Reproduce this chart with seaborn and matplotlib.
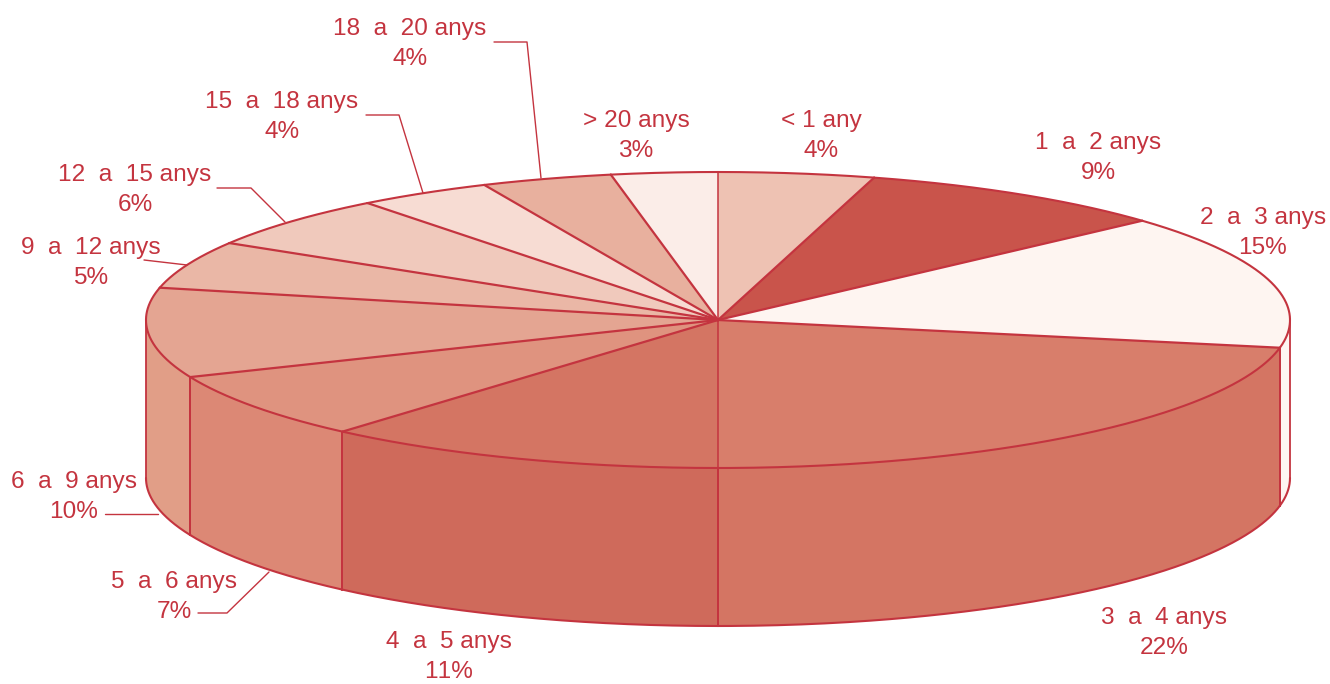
import numpy as np
import pandas as pd
import matplotlib.pyplot as plt
import seaborn as sns

# Data, clockwise from 12 o'clock
categories = ['< 1 any', '1 a 2 anys', '2 a 3 anys', '3 a 4 anys', '4 a 5 anys', '5 a 6 anys',
              '6 a 9 anys', '9 a 12 anys', '12 a 15 anys', '15 a 18 anys', '18 a 20 anys', '> 20 anys']
printed_pct = [4, 9, 15, 22, 11, 7, 10, 5, 6, 4, 4, 3]
# slice sizes as actually drawn (a bit more precise than the printed labels)
shares = [4.4, 8.9, 14.7, 22.0, 11.4, 7.3, 9.8, 5.2, 5.8, 3.8, 3.7, 3.0]

top_colors = ['#EEC2B3', '#C9544B', '#FEF5F1', '#D87E6B', '#D47563', '#DF937F',
              '#E4A592', '#EAB7A6', '#F0C9BC', '#F7DCD3', '#E8B09E', '#FBEDE8']
side_colors = ['#EEC2B3', '#C9544B', '#FEF5F1', '#D47563', '#CF6A5B', '#DC8875',
               '#E19E87', '#EAB7A6', '#F0C9BC', '#F7DCD3', '#E8B09E', '#FBEDE8']
RED = '#C4343F'

# Pie geometry in pixels
CX, CY, RX, RY, DEPTH = 718, 320, 572, 148, 158

# Label centres and leader lines (pixels)
label_pos = [(821, 121), (1098, 143), (1263, 218), (1164, 618), (449, 642), (174, 582),
             (74, 482), (91, 248), (135, 175), (282, 102), (410, 29), (636, 121)]
leaders = [
    [(494, 42), (527, 42), (541, 178)],
    [(366, 115), (399, 115), (423, 193)],
    [(217, 188), (251, 188), (285, 222)],
    [(144, 260), (187, 265)],
    [(105, 514), (158, 514)],
    [(198, 613), (227, 613), (269, 572)],
]

sns.set_theme(style='white')
plt.rcParams['font.family'] = ['Liberation Sans', 'DejaVu Sans']
plt.rcParams['text.kerning_factor'] = 6

fig = plt.figure(figsize=(13.3, 6.84), dpi=100)
ax = fig.add_axes([0, 0, 1, 1])
ax.set_xlim(0, 1330)
ax.set_ylim(684, 0)
ax.axis('off')


def rim(a0, a1, drop=0):
    t = np.radians(np.linspace(a0, a1, 200))
    return CX + RX * np.sin(t), CY - RY * np.cos(t) + drop


df = pd.DataFrame({'category': categories, 'share': shares})
df['end'] = df['share'].cumsum() / df['share'].sum() * 360
df['start'] = df['end'].shift(fill_value=0)

# Side wall, only the front half of the pie shows
for i, row in df.iterrows():
    a0, a1 = max(row['start'], 90), min(row['end'], 270)
    if a1 <= a0:
        continue
    x, y = rim(a0, a1)
    xs = np.r_[x, x[::-1]]
    ys = np.r_[y, (y + DEPTH)[::-1]]
    ax.fill(xs, ys, color=side_colors[i], lw=0, zorder=1)
    ax.plot(x, y + DEPTH, color=RED, lw=1.5, zorder=2)
    for xv, yv in [(x[0], y[0]), (x[-1], y[-1])]:
        ax.plot([xv, xv], [yv, yv + DEPTH], color=RED, lw=1.3, zorder=2)

# Top face
for i, row in df.iterrows():
    x, y = rim(row['start'], row['end'])
    ax.fill(np.r_[CX, x], np.r_[CY, y], color=top_colors[i], lw=0, zorder=3)
for i, row in df.iterrows():
    x, y = rim(row['start'], row['end'])
    ax.plot(x, y, color=RED, lw=1.5, zorder=4)
    lw = 1.1 if row['end'] in (df['end'].iloc[-1], 180) else 1.6
    ax.plot([CX, x[-1]], [CY, y[-1]], color=RED, lw=lw, zorder=4)

# Leader lines
for pts in leaders:
    xs, ys = zip(*pts)
    sns.lineplot(x=list(xs), y=list(ys), sort=False, estimator=None, color=RED, lw=1.0, ax=ax, zorder=5)

# Labels
for name, pct, (lx, ly) in zip(categories, printed_pct, label_pos):
    ax.text(lx, ly, name.replace(' a ', '  a  '), color=RED, fontsize=17.6, ha='center', va='center')
    ax.text(lx, ly + 30, f'{pct}%', color=RED, fontsize=17.6, ha='center', va='center')

fig.savefig('out.png', dpi=100)
plt.close()
